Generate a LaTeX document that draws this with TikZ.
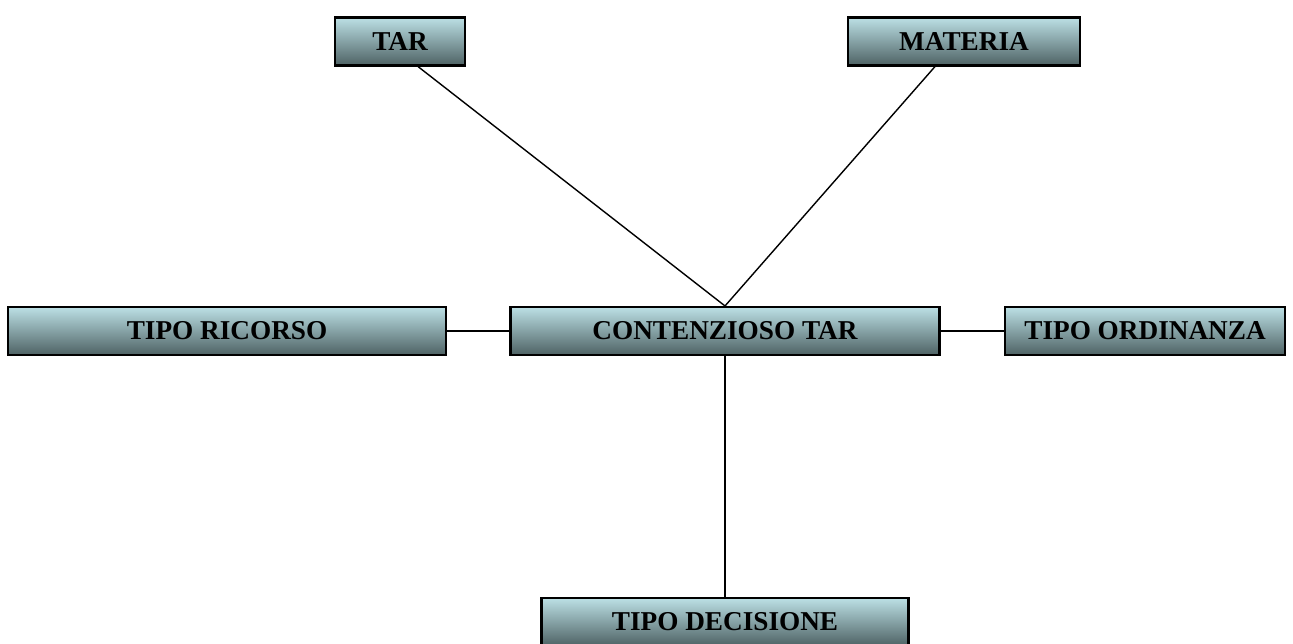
\documentclass[tikz,border=0pt]{standalone}
\usepackage{fontspec}
\setmainfont{Liberation Serif}
\usetikzlibrary{calc, positioning}
\definecolor{boxtop}{RGB}{188,224,229}
\definecolor{boxbottom}{RGB}{78,98,100}
\tikzset{
    tablenode/.style = {draw=black, line width=1.2pt, rectangle, inner sep=0em,
      top color=boxtop, bottom color=boxbottom, minimum height=0.96cm,
      font=\fontsize{15.5}{17}\selectfont\bfseries},
    connect/.style = {black, line width=0.8pt, -}
}
\begin{document}
\begin{tikzpicture}[x=0.02cm, y=-0.02cm]
\useasboundingbox (0,0) rectangle (1293,643);
\node[tablenode, minimum width=8.58cm, name=center] at (725,331) {CONTENZIOSO TAR};
\node[tablenode, minimum width=2.6cm, name=tar] at (400,41.5) {TAR};
\node[tablenode, minimum width=4.64cm, name=materia] at (964,41.5) {MATERIA};
\node[tablenode, minimum width=8.76cm, name=ricorso] at (227,331) {TIPO RICORSO};
\node[tablenode, minimum width=5.6cm, name=ordinanza] at (1145,331) {TIPO ORDINANZA};
\node[tablenode, minimum width=7.34cm, name=decisione] at (725,622) {TIPO DECISIONE};
\coordinate (tarfoot) at ($(tar.south)+(18,0)$);
\coordinate (materiafoot) at ($(materia.south)+(-29,0)$);
\draw[connect] (tarfoot) -- (center.north);
\draw[connect] (materiafoot) -- (center.north);
\draw[connect] (ricorso.east) -- (center.west);
\draw[connect] (center.east) -- (ordinanza.west);
\draw[connect] (center.south) -- (decisione.north);
\end{tikzpicture}
\end{document}
